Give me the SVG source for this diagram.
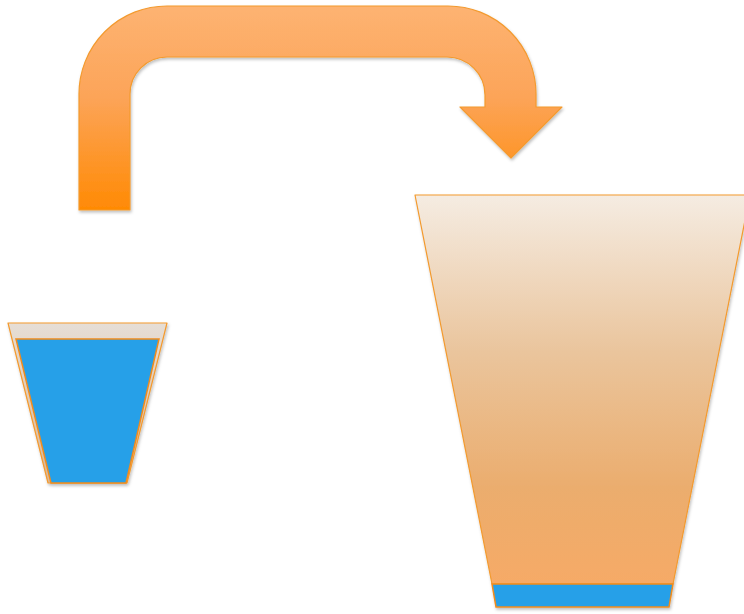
<svg xmlns="http://www.w3.org/2000/svg" width="744" height="614" viewBox="0 0 744 614">
<defs>
<linearGradient id="arrowGrad" x1="0" y1="0" x2="0" y2="1">
<stop offset="0" stop-color="#FDB372"/>
<stop offset="0.45" stop-color="#FCA458"/>
<stop offset="1" stop-color="#FF8A04"/>
</linearGradient>
<linearGradient id="bigGrad" x1="0" y1="0" x2="0" y2="1">
<stop offset="0" stop-color="#F5ECE2"/>
<stop offset="0.4" stop-color="#EAC59D"/>
<stop offset="0.75" stop-color="#EBAD6E"/>
<stop offset="1" stop-color="#F6AA66"/>
</linearGradient>
<linearGradient id="smallGrad" x1="0" y1="0" x2="0" y2="1">
<stop offset="0" stop-color="#E6DED6"/>
<stop offset="1" stop-color="#D9B899"/>
</linearGradient>
<filter id="shadow" x="-10%" y="-10%" width="130%" height="130%">
<feDropShadow dx="1" dy="2" stdDeviation="1.5" flood-color="#000" flood-opacity="0.25"/>
</filter>
<style>
.edge{stroke:#F39A2E;stroke-width:1.2;stroke-linejoin:round}
.water{fill:#28A0E8;stroke:#F08C1E;stroke-width:1.5}
</style>
</defs>
<g id="connectors">
<path id="arrow" class="edge" fill="url(#arrowGrad)" filter="url(#shadow)" d="M79,210 L79,94 A88,88 0 0 1 167,6 L448,6 A88,88 0 0 1 536,94 L536,107 L562,107 L511,158 L460,107 L485,107 L485,95 A38,38 0 0 0 447,57 L167,57 A37,37 0 0 0 130,94 L130,210 Z"/>
</g>
<g id="small-cup" filter="url(#shadow)">
<path class="edge" fill="url(#smallGrad)" d="M8,323 L167,323 L127,483 L48,483 Z"/>
<path class="water" d="M16,339 L159,339 L126,483 L51,483 Z"/>
</g>
<g id="big-cup" filter="url(#shadow)">
<path class="edge" fill="url(#bigGrad)" d="M415,195 L750,195 L673,584 L492,584 Z"/>
<path class="water" d="M492,584 L673,584 L669,607 L496,607 Z"/>
</g>
</svg>
